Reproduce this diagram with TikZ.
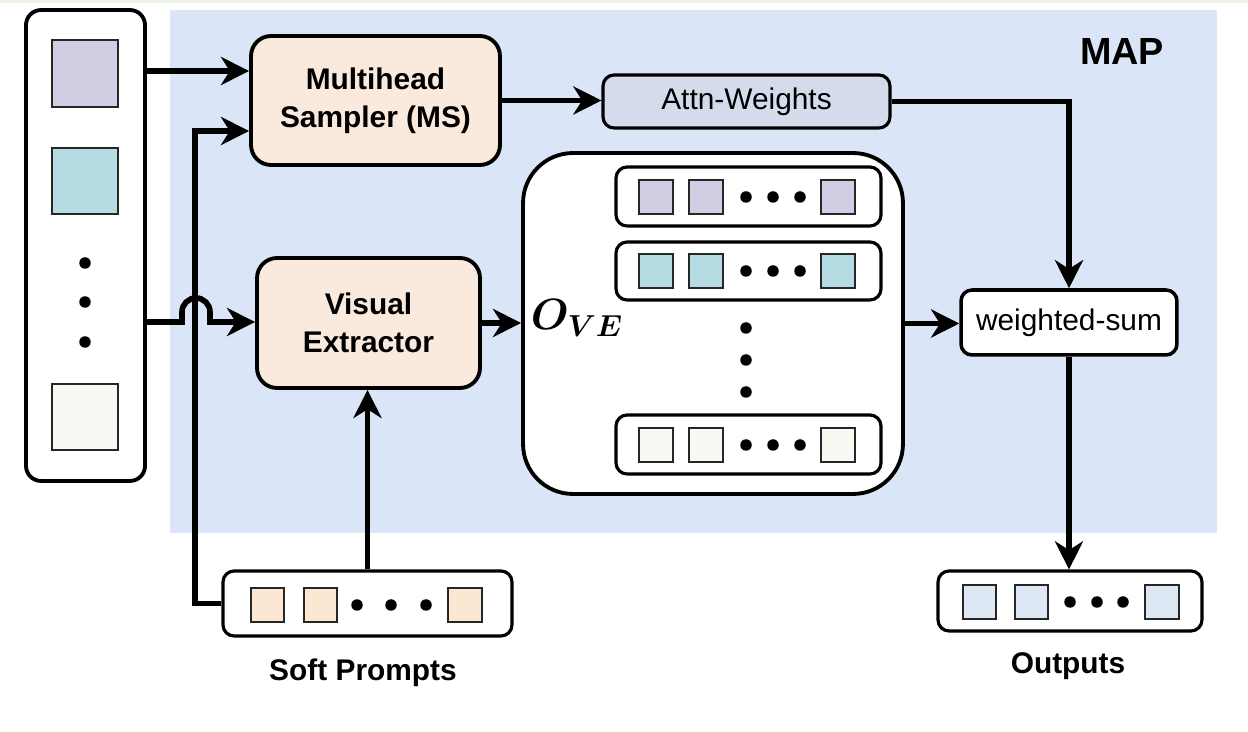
\documentclass[tikz,border=0pt]{standalone}
\usepackage{amsmath,bm}
\usepackage{fontspec}
\setmainfont{Liberation Sans}
\usetikzlibrary{arrows.meta}
\definecolor{bgblue}{HTML}{DAE6F7}
\definecolor{toplinec}{HTML}{EEF5E8}
\definecolor{cpurple}{HTML}{D0CEE2}
\definecolor{cteal}{HTML}{B6DCE3}
\definecolor{cgreen}{HTML}{F6FAF2}
\definecolor{cpeach}{HTML}{F9EADD}
\definecolor{csoft}{HTML}{FBE7D2}
\definecolor{cattn}{HTML}{D4DCEC}
\definecolor{cout}{HTML}{DEE8F4}
\begin{document}
\begin{tikzpicture}[x=0.02cm,y=-0.02cm,
  every node/.style={font=\fontsize{17}{21.5}\selectfont},
  bigbox/.style={draw, line width=2.2pt, inner sep=0pt, align=center},
  smallbox/.style={draw, line width=1.8pt, inner sep=0pt, align=center, rounded corners=0.22cm},
  sqbig/.style={draw=black!85, line width=1.4pt, inner sep=0pt, minimum width=1.32cm, minimum height=1.33cm},
  sqs/.style={draw=black!85, line width=1.3pt, inner sep=0pt, minimum size=0.67cm},
  dotn/.style={circle, fill=black, inner sep=0pt, minimum size=0.23cm},
  conn/.style={line width=3.2pt},
  arr/.style={line width=3.2pt, -{Stealth[length=16pt,width=16pt,inset=5pt]}},
  lbl/.style={font=\fontsize{17}{21.5}\selectfont\bfseries}
]
\useasboundingbox (0,0) rectangle (1248,732);
\fill[toplinec] (0,0) rectangle (1248,3);
\fill[bgblue] (170,10) rectangle (1217,533);
\node[lbl, font=\fontsize{21.5}{25}\selectfont\bfseries] (map) at (1122,52) {MAP};

% input column
\node[bigbox, fill=white, rounded corners=0.3cm, minimum width=2.38cm, minimum height=9.42cm] (inp) at (85.5,245.5) {};
\node[sqbig, fill=cpurple] (in1) at (85,73.5) {};
\node[sqbig, fill=cteal] (in2) at (85,181) {};
\node[sqbig, fill=cgreen] (in3) at (85,417) {};
\node[dotn] (ind1) at (85,263) {};
\node[dotn] (ind2) at (85,302) {};
\node[dotn] (ind3) at (85,342) {};

% main blocks
\node[bigbox, fill=cpeach, rounded corners=0.4cm, minimum width=4.98cm, minimum height=2.58cm, font=\fontsize{17}{21.5}\selectfont\bfseries] (ms) at (375.5,100.5) {Multihead\\Sampler (MS)};
\node[bigbox, fill=cpeach, rounded corners=0.4cm, minimum width=4.46cm, minimum height=2.6cm, font=\fontsize{17}{21.5}\selectfont\bfseries] (ve) at (368.5,323) {Visual\\Extractor};
\node[smallbox, fill=cattn, minimum width=5.74cm, minimum height=1.06cm] (aw) at (746.5,101.5) {Attn-Weights};
\node[smallbox, fill=white, line width=2pt, minimum width=4.32cm, minimum height=1.3cm] (ws) at (1069,322.5) {weighted-sum};

% O_VE container
\node[bigbox, fill=white, rounded corners=1cm, minimum width=7.6cm, minimum height=6.82cm] (ove) at (713,323.5) {};
\node[font=\fontsize{24}{28}\selectfont] (ovel) at (577,318) {$\bm{O}_{\bm{V}\bm{E}}$};
\node[smallbox, fill=white, minimum width=5.3cm, minimum height=1.18cm] (row1) at (748.5,196.5) {};
\node[smallbox, fill=white, minimum width=5.3cm, minimum height=1.16cm] (row2) at (748.5,271) {};
\node[smallbox, fill=white, minimum width=5.3cm, minimum height=1.18cm] (row3) at (748.5,444.5) {};
\foreach \r/\y/\c in {1/197/cpurple, 2/271/cteal, 3/445/cgreen}{
  \node[sqs, fill=\c] (r\r a) at (656,\y) {};
  \node[sqs, fill=\c] (r\r b) at (706,\y) {};
  \node[sqs, fill=\c] (r\r c) at (838,\y) {};
  \node[dotn] (r\r d1) at (746,\y) {};
  \node[dotn] (r\r d2) at (773,\y) {};
  \node[dotn] (r\r d3) at (800,\y) {};
}
\node[dotn] (vd1) at (746,328) {};
\node[dotn] (vd2) at (746,360) {};
\node[dotn] (vd3) at (746,392) {};

% soft prompts
\node[smallbox, fill=white, minimum width=5.78cm, minimum height=1.3cm] (sp) at (367.5,603.5) {};
\node[sqs, fill=csoft] (sp1) at (267.5,605) {};
\node[sqs, fill=csoft] (sp2) at (320.5,605) {};
\node[sqs, fill=csoft] (sp3) at (465,605) {};
\node[dotn] (spd1) at (357,605) {};
\node[dotn] (spd2) at (391,605) {};
\node[dotn] (spd3) at (426,605) {};
\node[lbl] (splbl) at (363,673) {Soft Prompts};

% outputs
\node[smallbox, fill=white, minimum width=5.28cm, minimum height=1.2cm] (out) at (1070,601) {};
\node[sqs, fill=cout] (o1) at (979.5,602) {};
\node[sqs, fill=cout] (o2) at (1031.5,602) {};
\node[sqs, fill=cout] (o3) at (1162,602) {};
\node[dotn] (od1) at (1070,602) {};
\node[dotn] (od2) at (1097,602) {};
\node[dotn] (od3) at (1123,602) {};
\node[lbl] (outlbl) at (1068,666) {Outputs};

% connectors
\coordinate (y1) at (0,71);
\coordinate (y2) at (0,131);
\coordinate (y3) at (0,322);
\coordinate (xj) at (195,0);
\draw[arr] (inp.east |- y1) -- (ms.west |- y1);
\draw[arr] (sp.west) -- (sp.west -| xj) -- (xj |- y2) -- (ms.west |- y2);
\draw[arr] (inp.east |- y3) -- (182,322) -- (182,312)
  arc[start angle=180, end angle=0, radius=0.28cm] -- (210,322) -- (ve.west |- y3);
\draw[arr] (sp.north) -- (sp.north |- ve.south);
\draw[arr] (ms.east) -- (ms.east -| aw.west);
\draw[arr] (aw.east) -| (ws.north);
\draw[arr] (ve.east) -- (ve.east -| ove.west);
\draw[arr] (ove.east) -- (ove.east -| ws.west);
\draw[arr] (ws.south) -- (ws.south |- out.north);
\end{tikzpicture}
\end{document}
